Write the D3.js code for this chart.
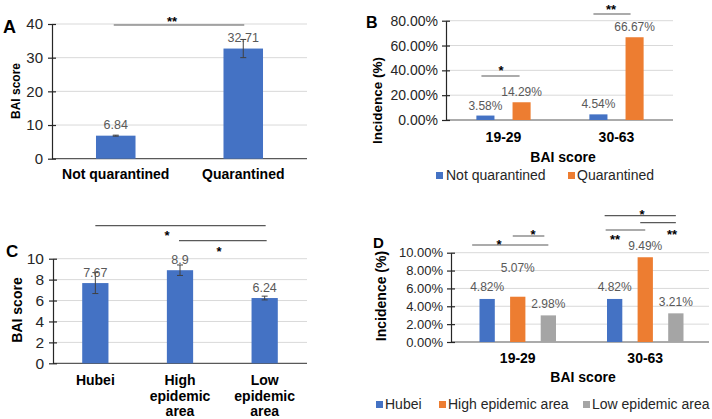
<!DOCTYPE html>
<html><head><meta charset="utf-8">
<script src="https://cdn.jsdelivr.net/npm/d3@7"></script>
<style>
body{margin:0;background:#fff;}
text{font-family:Arial,"Liberation Sans",sans-serif;}
</style></head>
<body><svg id="c" width="712" height="419"></svg>
<script>
// ---- data ----
const aCats = ["Not quarantined", "Quarantined"];
const aVals = [6.84, 32.71];
const aErr = [0.15, 2.7];
const aTicks = [0, 10, 20, 30, 40];

const bCats = ["19-29", "30-63"];
const bSeries = ["Not quarantined", "Quarantined"];
const bNotQuarantined = [3.58, 4.54];
const bQuarantined = [14.29, 66.67];
const bTicks = [0, 20, 40, 60, 80];

const cCats = ["Hubei", "High epidemic area", "Low epidemic area"];
const cVals = [7.67, 8.9, 6.24];
const cErr = [1.0, 0.5, 0.18];
const cTicks = [0, 2, 4, 6, 8, 10];

const dCats = ["19-29", "30-63"];
const dSeries = ["Hubei", "High epidemic area", "Low epidemic area"];
const dHubei = [4.82, 4.82];
const dHigh = [5.07, 9.49];
const dLow = [2.98, 3.21];
const dTicks = [0, 2, 4, 6, 8, 10];

// ---- style ----
const BLUE = "#4472C4", ORANGE = "#ED7D31", GREY = "#A5A5A5";
const svg = d3.select("#c");

function yAxis(g, y, x0, x1, ticks, fmt, fs, pad) {
  g.selectAll("line.grid").data(ticks.filter(t => t !== 0)).join("line")
    .attr("x1", x0).attr("x2", x1).attr("y1", d => y(d)).attr("y2", d => y(d))
    .attr("stroke", "#d9d9d9").attr("stroke-width", 1);
  g.append("line").attr("x1", x0).attr("x2", x1).attr("y1", y(0)).attr("y2", y(0))
    .attr("stroke", "#595959").attr("stroke-width", 1.2);
  const ax = g.append("g").attr("transform", `translate(${x0},0)`)
    .call(d3.axisLeft(y).tickValues(ticks).tickFormat(fmt).tickSize(4).tickSizeOuter(0).tickPadding(pad));
  ax.select(".domain").attr("stroke", "#262626").attr("stroke-width", 1.2);
  ax.selectAll(".tick line").attr("x1", 4).attr("stroke", "#262626").attr("stroke-width", 1.2);
  ax.selectAll(".tick text").attr("font-size", fs).attr("fill", "#262626")
    .style("font-family", "Arial, 'Liberation Sans', sans-serif");
}

function yTitle(g, text, x, yc, fs) {
  g.append("text").attr("transform", `translate(${x},${yc}) rotate(-90)`)
    .attr("text-anchor", "middle").attr("dominant-baseline", "central")
    .attr("font-size", fs).attr("font-weight", "bold").attr("fill", "#000").text(text);
}
function panelLabel(g, t, x, y, fs) {
  g.append("text").attr("x", x).attr("y", y).attr("font-size", fs).attr("font-weight", "bold").text(t);
}
function sig(g, x1, x2, ly, label, tx, ty) {
  g.append("line").attr("x1", x1).attr("x2", x2).attr("y1", ly).attr("y2", ly)
    .attr("stroke", "#595959").attr("stroke-width", 1.2);
  g.append("text").attr("x", tx).attr("y", ty).attr("text-anchor", "middle")
    .attr("font-size", 13).attr("font-weight", "bold").attr("fill", "#000").text(label);
}
function errBar(g, cx, y, v, e) {
  g.append("line").attr("x1", cx).attr("x2", cx).attr("y1", y(v - e)).attr("y2", y(v + e)).attr("stroke", "#404040");
  [v - e, v + e].forEach(t => g.append("line").attr("x1", cx - 3).attr("x2", cx + 3)
    .attr("y1", y(t)).attr("y2", y(t)).attr("stroke", "#404040"));
}
function legend(g, items, y) {
  items.forEach(it => {
    g.append("rect").attr("x", it.sx).attr("y", y - 8).attr("width", 7).attr("height", 7).attr("fill", it.color);
    g.append("text").attr("x", it.tx).attr("y", y).attr("font-size", 14).attr("fill", "#262626").text(it.name);
  });
}

// ================= Panel A =================
{
  const g = svg.append("g");
  const y = d3.scaleLinear().domain([0, 40]).range([158.7, 24]);
  const x = d3.scaleBand().domain(aCats).range([52, 307]).paddingInner(0.69).paddingOuter(0.345);
  yAxis(g, y, 52, 307, aTicks, d => d, 15, 5);
  g.selectAll("rect.bar").data(aCats).join("rect")
    .attr("x", d => x(d)).attr("width", x.bandwidth())
    .attr("y", (d, i) => y(aVals[i])).attr("height", (d, i) => y(0) - y(aVals[i])).attr("fill", BLUE);
  aCats.forEach((c, i) => errBar(g, x(c) + x.bandwidth() / 2, y, aVals[i], aErr[i]));
  g.selectAll("text.lab").data(aCats).join("text")
    .attr("x", d => x(d) + x.bandwidth() / 2).attr("y", (d, i) => y(aVals[i]) - 7)
    .attr("text-anchor", "middle").attr("font-size", 12.5).attr("fill", "#595959").text((d, i) => aVals[i]);
  g.selectAll("text.cat").data(aCats).join("text")
    .attr("x", d => x(d) + x.bandwidth() / 2).attr("y", 179)
    .attr("text-anchor", "middle").attr("font-size", 14).attr("font-weight", "bold").text(d => d);
  yTitle(g, "BAI score", 16, 91, 12);
  panelLabel(g, "A", 3, 33, 18);
  const cx = c => x(c) + x.bandwidth() / 2;
  sig(g, cx(aCats[0]) - 2, cx(aCats[1]) + 1, 25, "**", 172, 26);
}

// ================= Panel B =================
{
  const g = svg.append("g");
  const y = d3.scaleLinear().domain([0, 80]).range([120, 20.7]);
  const x0 = d3.scaleBand().domain(bCats).range([447, 673]).paddingInner(0.52).paddingOuter(0.26);
  const x1 = d3.scaleBand().domain(bSeries).range([0, x0.bandwidth()]).paddingInner(0.5).paddingOuter(0);
  yAxis(g, y, 446, 673, bTicks, d => d.toFixed(2) + "%", 14, 4);
  const series = [bNotQuarantined, bQuarantined];
  const colors = [BLUE, ORANGE];
  bSeries.forEach((s, si) => {
    g.selectAll(null).data(bCats).join("rect")
      .attr("x", d => x0(d) + x1(s)).attr("width", x1.bandwidth())
      .attr("y", (d, i) => y(series[si][i])).attr("height", (d, i) => y(0) - y(series[si][i]))
      .attr("fill", colors[si]);
    g.selectAll(null).data(bCats).join("text")
      .attr("x", d => x0(d) + x1(s) + x1.bandwidth() / 2).attr("y", (d, i) => y(series[si][i]) - 6)
      .attr("text-anchor", "middle").attr("font-size", 12).attr("fill", "#595959")
      .text((d, i) => series[si][i].toFixed(2) + "%");
  });
  g.selectAll("text.cat").data(bCats).join("text")
    .attr("x", d => x0(d) + x0.bandwidth() / 2).attr("y", 142)
    .attr("text-anchor", "middle").attr("font-size", 14).attr("font-weight", "bold").text(d => d);
  g.append("text").attr("x", 563).attr("y", 162).attr("text-anchor", "middle")
    .attr("font-size", 14).attr("font-weight", "bold").text("BAI score");
  yTitle(g, "Incidence (%)", 377, 100.5, 13.5);
  panelLabel(g, "B", 366, 27.5, 16);
  const bc = (c, s) => x0(c) + x1(s) + x1.bandwidth() / 2;
  sig(g, bc(bCats[0], bSeries[0]) - 4, bc(bCats[0], bSeries[1]) - 2, 76, "*", 501, 75);
  sig(g, bc(bCats[1], bSeries[0]) - 5, bc(bCats[1], bSeries[1]) - 4, 14, "**", 611, 14);
  legend(g, [
    { name: bSeries[0], color: BLUE, sx: 436, tx: 446 },
    { name: bSeries[1], color: ORANGE, sx: 568, tx: 577 }
  ], 180);
}

// ================= Panel C =================
{
  const g = svg.append("g");
  const y = d3.scaleLinear().domain([0, 10]).range([363.3, 258.7]);
  const x = d3.scaleBand().domain(cCats).range([53, 307]).paddingInner(0.69).paddingOuter(0.345);
  yAxis(g, y, 53, 307, cTicks, d => d, 15.5, 5);
  g.selectAll("rect.bar").data(cCats).join("rect")
    .attr("x", d => x(d)).attr("width", x.bandwidth())
    .attr("y", (d, i) => y(cVals[i])).attr("height", (d, i) => y(0) - y(cVals[i])).attr("fill", BLUE);
  const cx = c => x(c) + x.bandwidth() / 2;
  cCats.forEach((c, i) => errBar(g, cx(c), y, cVals[i], cErr[i]));
  g.selectAll("text.lab").data(cCats).join("text")
    .attr("x", d => cx(d)).attr("y", (d, i) => y(cVals[i]) - 6)
    .attr("text-anchor", "middle").attr("font-size", 12.5).attr("fill", "#595959").text((d, i) => cVals[i]);
  cCats.forEach(c => {
    const words = c === "Hubei" ? ["Hubei"] : [c.split(" ")[0], "epidemic", "area"];
    words.forEach((w, k) => g.append("text").attr("x", cx(c)).attr("y", 385 + k * 15.5)
      .attr("text-anchor", "middle").attr("font-size", 14).attr("font-weight", "bold").text(w));
  });
  yTitle(g, "BAI score", 17, 310, 14);
  panelLabel(g, "C", 6, 257, 17);
  sig(g, cx(cCats[0]), cx(cCats[2]) + 1, 225.7, "*", 167, 240);
  sig(g, cx(cCats[1]) - 1, cx(cCats[2]) + 2, 240.7, "*", 219, 256);
}

// ================= Panel D =================
{
  const g = svg.append("g");
  const y = d3.scaleLinear().domain([0, 10]).range([342, 252.7]);
  const x0 = d3.scaleBand().domain(dCats).range([454, 709]).paddingInner(0.4).paddingOuter(0.2);
  const x1 = d3.scaleBand().domain(dSeries).range([0, x0.bandwidth()]).paddingInner(0.5).paddingOuter(0);
  yAxis(g, y, 451, 709, dTicks, d => d.toFixed(2) + "%", 13, 4);
  const series = [dHubei, dHigh, dLow];
  const colors = [BLUE, ORANGE, GREY];
  const labelLift = [[0, 0], [17, 0], [0, 0]]; // extra label offsets (layout)
  dSeries.forEach((s, si) => {
    g.selectAll(null).data(dCats).join("rect")
      .attr("x", d => x0(d) + x1(s)).attr("width", x1.bandwidth())
      .attr("y", (d, i) => y(series[si][i])).attr("height", (d, i) => y(0) - y(series[si][i]))
      .attr("fill", colors[si]);
    g.selectAll(null).data(dCats).join("text")
      .attr("x", d => x0(d) + x1(s) + x1.bandwidth() / 2)
      .attr("y", (d, i) => y(series[si][i]) - 7.5 - labelLift[si][i])
      .attr("text-anchor", "middle").attr("font-size", 12).attr("fill", "#595959")
      .text((d, i) => series[si][i].toFixed(2) + "%");
  });
  g.selectAll("text.cat").data(dCats).join("text")
    .attr("x", d => x0(d) + x0.bandwidth() / 2).attr("y", 363)
    .attr("text-anchor", "middle").attr("font-size", 14).attr("font-weight", "bold").text(d => d);
  g.append("text").attr("x", 583).attr("y", 382).attr("text-anchor", "middle")
    .attr("font-size", 14).attr("font-weight", "bold").text("BAI score");
  yTitle(g, "Incidence (%)", 381, 296, 14);
  panelLabel(g, "D", 373, 248, 15);
  const dc = (c, s) => x0(c) + x1(s) + x1.bandwidth() / 2;
  // 19-29
  sig(g, dc(dCats[0], dSeries[0]) - 15, dc(dCats[0], dSeries[2]), 245, "*", 499, 249);
  sig(g, dc(dCats[0], dSeries[1]) - 5, dc(dCats[0], dSeries[2]) - 4, 236, "*", 533, 239);
  // 30-63
  sig(g, dc(dCats[1], dSeries[0]) - 10, dc(dCats[1], dSeries[2]), 215.7, "*", 642, 219);
  sig(g, dc(dCats[1], dSeries[0]) - 9, dc(dCats[1], dSeries[1]), 230, "**", 615, 244);
  sig(g, dc(dCats[1], dSeries[1]) - 5, dc(dCats[1], dSeries[2]), 222.7, "**", 672, 239);
  legend(g, [
    { name: dSeries[0], color: BLUE, sx: 376, tx: 385 },
    { name: dSeries[1], color: ORANGE, sx: 439, tx: 448 },
    { name: dSeries[2], color: GREY, sx: 583, tx: 592 }
  ], 409);
}
</script></body></html>
